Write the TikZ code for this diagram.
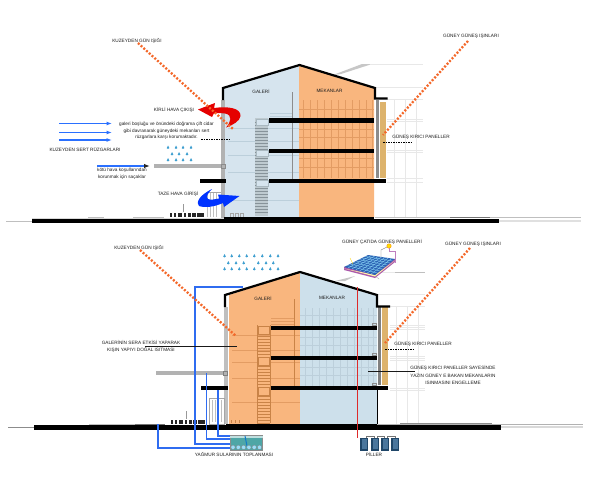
\documentclass[tikz,border=0pt]{standalone}
\usepackage{fontspec}
\setmainfont{Liberation Sans}
\usetikzlibrary{arrows.meta,calc}
\definecolor{gal}{HTML}{D6E4EE}
\definecolor{galb}{HTML}{CDE0EB}
\definecolor{org}{HTML}{F9B67E}
\definecolor{orgd}{HTML}{E39C63}
\definecolor{orgs}{HTML}{C98347}
\definecolor{blugr}{HTML}{BCCFDB}
\definecolor{stairg}{HTML}{A9B8C0}
\definecolor{pantan}{HTML}{DDB36C}
\definecolor{sunray}{HTML}{F4682A}
\definecolor{pipe}{HTML}{2F6CF0}
\definecolor{wind}{HTML}{2A70FF}
\definecolor{drop}{HTML}{3F9FD0}
\definecolor{txt}{HTML}{1E1E1E}
\definecolor{riser}{HTML}{DE2A2A}
\definecolor{batt}{HTML}{2B5F8C}
\definecolor{tankc}{HTML}{4EA6A6}
\definecolor{panelc}{HTML}{2C62B4}
\tikzset{
 lab/.style={font=\fontsize{4.7}{5.5}\selectfont,text=txt,inner sep=0pt,align=center},
 slab/.style={fill=black,draw=none},
 ray/.style={draw=sunray,line width=2.3pt,dash pattern=on 2pt off 1.7pt},
 dashblk/.style={draw=black,line width=.9pt,dash pattern=on 1.6pt off .9pt},
 roof/.style={draw=black,line width=2.2pt,line join=miter},
 pipeline/.style={draw=pipe,line width=1.1pt},
 windarrow/.style={draw=wind,line width=1.1pt,-{Latex[length=5.5pt,width=4pt]}},
 faint/.style={draw=black!9,line width=.5pt},
 pointer/.style={draw=black!90,line width=.7pt},
}
\newcommand{\raindrop}[2]{\fill[drop] ({#1},{#2-2}) .. controls ({#1+.4},{#2-.7}) and ({#1+1.3},{#2-.3}) .. ({#1+1.3},{#2+.6}) .. controls ({#1+1.3},{#2+1.7}) and ({#1-1.3},{#2+1.7}) .. ({#1-1.3},{#2+.6}) .. controls ({#1-1.3},{#2-.3}) and ({#1-.4},{#2-.7}) .. ({#1},{#2-2}) -- cycle;}
\begin{document}
\begin{tikzpicture}[x=1pt,y=-1pt]
\useasboundingbox (0,0) rectangle (599,479);
\fill[white] (0,0) rectangle (599,479);

% ============ TOP SECTION ============
% faint background, right side
\fill[black!22] (333,75) -- (362,64) -- (372,64) -- (341,74) -- cycle;
\draw[faint] (370,64) -- (423,64);
\draw[faint] (375,87) -- (423,87);
\foreach \y in {99,119,121,150,152,178,182} \draw[faint] (387,\y) -- (423,\y);
\foreach \x in {394,405,416} \draw[faint] (\x,99) -- (\x,218);
% interiors
\fill[gal] (224,88) -- (299,65) -- (299,218) -- (224,218) -- cycle;
\fill[org] (299,65) -- (374,88) -- (374,218) -- (299,218) -- cycle;
\foreach \x in {303,310,317,324,331,338,345,352,359,366,372}
  \draw[orgd,line width=.4pt] (\x,100) -- (\x,178);
\foreach \y in {109,129,137,158,167}
  \draw[orgd,line width=.3pt] (299,\y) -- (374,\y);
\foreach \y in {128,141,155,172,200}
  \draw[blugr,line width=.3pt] (228,\y) -- (299,\y);
% stairs
\fill[stairg!75] (255,118) rectangle (268,216);
\foreach \y in {122,125,...,214} \draw[stairg!80!black,line width=.2pt] (255,\y) -- (268,\y);
\foreach \y in {119,150,180} \draw[stairg,line width=.3pt,fill=gal] (256,\y) rectangle (268,\y+6);
\draw[black!45,line width=.5pt] (292,92) -- (292,181);
\foreach \y in {113,116,119} \draw[blugr,line width=.3pt] (270,\y) -- (292,\y);
% column, eave, panels
\fill[black!30] (221,100) rectangle (225,218);
\fill[black!30] (154,164) rectangle (224,168);
\draw[black!45,line width=.3pt] (221,164) rectangle (225,168);
\fill[black!45] (376,100) rectangle (379,178);
\fill[pantan] (380,102) rectangle (386,178);
\draw[roof] (223,100) -- (223,88) -- (299.5,65) -- (375,88) -- (375,98.5) -- (387.5,98.5);
% slabs
\fill[slab] (269,118) rectangle (374,122.5);
\fill[slab] (269,148.5) rectangle (374,153);
\fill[slab] (269,179) rectangle (374,183);
\fill[slab] (374,179) rectangle (386,183);
\fill[slab] (200,179) rectangle (226,183);
% pavilion
\foreach \x in {207,210,213,216} \draw[black!25,line width=.3pt] (\x,192) -- (\x,217);
\draw[black!35,line width=.3pt] (207,192) -- (221,192);
\foreach \x in {230,235,240} \draw[black!35,line width=.3pt] (\x,213) rectangle (\x+3,217);
% ground
\draw[black!25,line width=.8pt] (6,221) -- (32,221);
\fill[black!25] (88,216.5) rectangle (104,219);
\fill[black!25] (133,216.5) rectangle (164,219);
\fill[black!15] (32,218) rectangle (224,219);
\fill[slab] (32,219) rectangle (499,223);
\fill[slab] (224,217) rectangle (374,223);
\draw[black!25,line width=.6pt] (375,217) -- (581,217);
\draw[black!12,line width=1.6pt] (499,221) -- (581,221);
\draw[black!55,line width=.7pt] (450,217) -- (490,217);
% street furniture
\foreach \x/\w in {170/2,174/2,178/4,184/2,188/3,192/4,197/7} \fill[black!85] (\x,213) rectangle (\x+\w,217);
\draw[black!40,line width=.3pt] (183,204) -- (183,212);
% rays behind the air arrows
\node[lab] (tn) at (137,40.5) {KUZEYDEN GÜN IŞIĞI};
\node[lab] (ts) at (471,36.5) {GÜNEY GÜNEŞ IŞINLARI};
\coordinate (tne) at (233,129); \coordinate (tse) at (383,135);
% red arrow (dirty air out)
\fill[red!90!black] (198,109.5) -- (215,103) -- (214,108)
  .. controls (228,106) and (241,108) .. (240.5,116)
  .. controls (240,121) and (233,125) .. (226,127.5)
  .. controls (231,122) and (233,115) .. (225,113.5)
  .. controls (221,113) and (217,113) .. (214,113) -- (212,117) -- cycle;
% blue arrow (fresh air in)
\fill[blue!80!cyan] (212,189)
  .. controls (209,192) and (205,197) .. (208,199)
  .. controls (211,200.5) and (215,199) .. (219,198.5)
  -- (218,194.5) -- (239.5,196) -- (224,207) -- (223,203)
  .. controls (214,207) and (205,208) .. (199,206)
  .. controls (196,203) and (198,196) .. (212,189) -- cycle;
\draw[ray] (138,43) -- (tne);
\draw[ray] (468,41) -- (tse);
% wind
\coordinate (wa1) at (59,123.5); \coordinate (wb1) at (112,123.5);
\coordinate (wa2) at (59,132.5); \coordinate (wb2) at (112,132.5);
\coordinate (wa3) at (59,140); \coordinate (wb3) at (112,140);
\coordinate (wa4) at (97,166); \coordinate (wb4) at (150,166);
\draw[windarrow] (wa1) -- (wb1);
\draw[windarrow] (wa2) -- (wb2);
\draw[windarrow] (wa3) -- (wb3);
\draw[draw=wind,line width=1.1pt,-{Latex[length=6pt,width=4.5pt,fill=black!85,color=black!85]}] (wa4) -- (wb4);
% rain
\foreach \x in {168,176,183,191} {\raindrop{\x}{147.5}\raindrop{\x}{160}}
\foreach \x in {172,179,187} {\raindrop{\x}{154}}
% labels
\node[lab] at (261,91) {GALERİ};
\node[lab] at (329.5,91) {MEKANLAR};
\node[lab] at (174,110) {KİRLİ HAVA ÇIKIŞI};
\node[lab] (tmid) at (166.5,131) {galeri boşluğu ve önündeki doğrama çift cidar\\[.9pt]gibi davranarak güneydeki mekanları sert\\[.9pt]rüzgarlara karşı korumaktadır.};
\node[lab] at (85,150) {KUZEYDEN SERT RÜZGARLARI};
\node[lab] at (122,173.5) {kötü hava koşullarından\\[1.6pt]korunmak için saçaklar};
\node[lab] at (178,194) {TAZE HAVA GİRİŞİ};
\node[lab] at (421,137) {GÜNEŞ KIRICI PANELLER};
\coordinate (td1) at (201,139); \coordinate (td2) at (230,139);
\coordinate (td3) at (383,142); \coordinate (td4) at (412,142);
\draw[dashblk] (td1) -- (td2);
\draw[dashblk] (td3) -- (td4);

% ============ BOTTOM SECTION ============
% faint right side
\draw[faint] (377,272) -- (425,272);
\draw[faint] (377,294) -- (425,294);
\foreach \y in {306,325,327,329,356,358,360,388,390} \draw[faint] (390,\y) -- (425,\y);
\foreach \x in {396,407,418} \draw[faint] (\x,306) -- (\x,425);
\fill[black!22] (335,281) -- (355,276) -- (345,281) -- cycle;
% interiors
\fill[org] (229,295) -- (300,272) -- (300,424) -- (229,424) -- cycle;
\fill[galb] (300,272) -- (377,295) -- (377,424) -- (300,424) -- cycle;
\foreach \x in {305,312,319,326,333,340,347,354,361,368,373}
  \draw[blugr,line width=.4pt] (\x,308) -- (\x,388);
\foreach \y in {315,337,345,367,375}
  \draw[blugr,line width=.3pt] (300,\y) -- (377,\y);
\foreach \y in {335,350,362,378,402}
  \draw[orgd,line width=.25pt] (232,\y) -- (300,\y);
\foreach \y in {318,321,324,327} \draw[orgd,line width=.35pt] (271,\y) -- (295,\y);
% stairs
\foreach \y in {327,330,...,423} \draw[orgs,line width=.3pt] (257,\y) -- (270,\y);
\foreach \x in {257,270} \draw[orgs,line width=.4pt] (\x,325) -- (\x,423);
\foreach \y in {334,365,395} \draw[orgs,line width=.4pt,fill=org] (258,\y-8) rectangle (269,\y);
\draw[orgs,line width=.6pt] (294,299) -- (294,388);
% column, eave, panels
\fill[black!25] (224,307) rectangle (228,424);
\fill[black!30] (156,371) rectangle (227,375);
\draw[black!50,line width=.3pt] (223.5,371) rectangle (227,375);
\fill[black!50] (378,307) rectangle (381,385);
\fill[pantan] (382,307) rectangle (388,385);
\draw[roof] (225,307) -- (225,295) -- (300,272) -- (377,295) -- (377,306.5) -- (390,306.5);
% slabs
\fill[slab] (271,326) rectangle (377,330);
\fill[slab] (271,356) rectangle (377,360);
\fill[slab] (271,386) rectangle (377,390);
\fill[slab] (377,386) rectangle (388,390);
\fill[slab] (201,386) rectangle (228,390);
\foreach \y in {324,354,384} \draw[black!45,line width=.3pt] (372,\y-1) rectangle (376,\y+1);
\draw[black,line width=.8pt] (377,390) -- (377,425);
% pavilion
\draw[black!35,line width=.3pt] (209,398) rectangle (224,424);
\foreach \x in {212,215,218,221} \draw[black!25,line width=.4pt] (\x,400) -- (\x,422);
\foreach \x in {231,235,239} \fill[orgs] (\x,420) rectangle (\x+1,423);
% ground
\draw[black!45,line width=.5pt] (8,427) -- (34,427);
\fill[black!25] (89,423.5) rectangle (135,425);
\fill[black!55] (135,423.5) rectangle (165,425);
\fill[slab] (34,425) rectangle (501,429.5);
\fill[slab] (226,424) rectangle (377,430);
\draw[black!30,line width=.6pt] (377,424) -- (583,424);
\draw[black!45,line width=.8pt] (400,423.5) -- (492,423.5);
\draw[black!15,line width=1.5pt] (501,427) -- (583,427);
% street furniture
\foreach \x/\w in {171/2,175/2,179/4,185/2,189/3,193/4,198/7} \fill[black!85] (\x,419.5) rectangle (\x+\w,424);
\draw[black!40,line width=.3pt] (186,411) -- (186,419);
% tank
\node[draw=black!45,line width=.4pt,fill=tankc,minimum width=32.5pt,minimum height=14.5pt,inner sep=0pt] (tank) at (246.3,442.7) {};
\fill[white!75!teal] (230.3,435.7) rectangle (262.5,437.5);
\draw[cyan!60!blue,line width=1pt] (245,436) -- (247,446);
\foreach \x in {233,238.3,243.6,248.9,254.2,259.5} \draw[black!50,line width=.3pt,fill=cyan!40] (\x,447.3) circle (2.2);
% pipes
\coordinate (p1) at (243,287); \coordinate (p1t) at (230,444);
\coordinate (p2) at (206.5,373); \coordinate (p2t) at (230,439);
\coordinate (p3) at (218,390); \coordinate (p3t) at (230,436);
\coordinate (p4) at (158,424); \coordinate (p4t) at (230,448);
\draw[pipeline] (p1) -| (195,444) -- (p1t);
\draw[pipeline] (p2) |- (p2t);
\draw[pipeline] (p3) |- (p3t);
\draw[pipeline] (p4) |- (p4t);
% solar panel
\fill[violet!65] (344,267) -- (344,270) -- (375,278) -- (395,262) -- (395,259) -- cycle;
\fill[yellow!35!white] (344,268.5) -- (375,276.5) -- (395,260.5) -- (375,275) -- cycle;
\fill[panelc] (344,267) -- (368,255) -- (395,259) -- (375,275) -- cycle;
\foreach \t in {.125,.25,...,.9} {
  \draw[cyan!45,line width=.35pt] ($(344,267)!\t!(368,255)$) -- ($(375,275)!\t!(395,259)$);
  \draw[cyan!45,line width=.35pt] ($(344,267)!\t!(375,275)$) -- ($(368,255)!\t!(395,259)$);
}
\node[circle,fill=yellow!80!orange,draw=orange,line width=.3pt,minimum size=4.5pt,inner sep=0pt] (sunlamp) at (389,246) {};
\draw[violet!50,line width=.5pt] (sunlamp) -- (389,251) -- (395,251) -- (395,263);
\draw[black!55,line width=.3pt] (387,247) -- (381,250) -- (381,257);
\draw[yellow!70!orange,line width=.4pt] (350,258) -- (353,264);
\draw[black!35,line width=.3pt] (375,276) -- (379,279);
\draw[black!25,line width=.4pt] (395,272) -- (425,272);
% battery
\foreach \x/\w in {360/8,371/7.5,381/7.5,391/8} {
  \fill[batt!75!black] (\x,438) rectangle (\x+\w,451);
  \fill[batt!85!white] (\x+2,439) rectangle (\x+\w-1,449);
}
\draw[black!55,line width=.4pt] (366,438) -- (366,436) -- (374,436) -- (374,438);
\draw[black!55,line width=.4pt] (377,438) -- (377,436) -- (384,436) -- (384,438);
\draw[black!55,line width=.4pt] (387,438) -- (387,436) -- (395,436) -- (395,438);
% red riser
\coordinate (r1) at (357,287); \coordinate (r2) at (357,438);
\draw[riser,line width=.9pt] (r1) -- (r2);
% rain
\foreach \x in {224.5,231.7,239.3,246.7,254.3,262.3,270.3,278}
  {\raindrop{\x}{256}\raindrop{\x}{269}}
\foreach \x in {228.3,236,243.7,258.3,266,273.3} {\raindrop{\x}{263}}
% labels, rays, pointers
\node[lab] (bn) at (139,248) {KUZEYDEN GÜN IŞIĞI};
\node[lab] (bs) at (473,244) {GÜNEY GÜNEŞ IŞINLARI};
\coordinate (bne) at (236,336); \coordinate (bse) at (385,343);
\draw[ray] (140,250) -- (bne);
\draw[ray] (470,248) -- (bse);
\node[lab] at (382,241.5) {GÜNEY ÇATIDA GÜNEŞ PANELLERİ};
\node[lab] at (263,298) {GALERİ};
\node[lab] at (332,298) {MEKANLAR};
\node[lab] at (141,346.5) {GALERİNİN SERA ETKİSİ YAPARAK\\[1.3pt]KIŞIN YAPIYI DOĞAL ISITMASI};
\coordinate (bl1) at (145,346); \coordinate (bl2) at (237,346);
\draw[pointer] (bl1) -- (bl2);
\node[lab] at (423,344.5) {GÜNEŞ KIRICI PANELLER};
\coordinate (bd1) at (385,349); \coordinate (bd2) at (414,349);
\draw[dashblk] (bd1) -- (bd2);
\coordinate (bl3) at (368,371); \coordinate (bl4) at (415,371);
\draw[pointer] (bl3) -- (bl4);
\node[lab] at (453,375) {GÜNEŞ KIRICI PANELLER SAYESİNDE\\[1.6pt]YAZIN  GÜNEY E BAKAN MEKANLARIN\\[1.6pt]ISINMASINI ENGELLEME};
\node[lab] at (234,454) {YAĞMUR SULARININ TOPLANMASI};
\node[lab] at (374,454) {PİLLER};
\end{tikzpicture}
\end{document}
